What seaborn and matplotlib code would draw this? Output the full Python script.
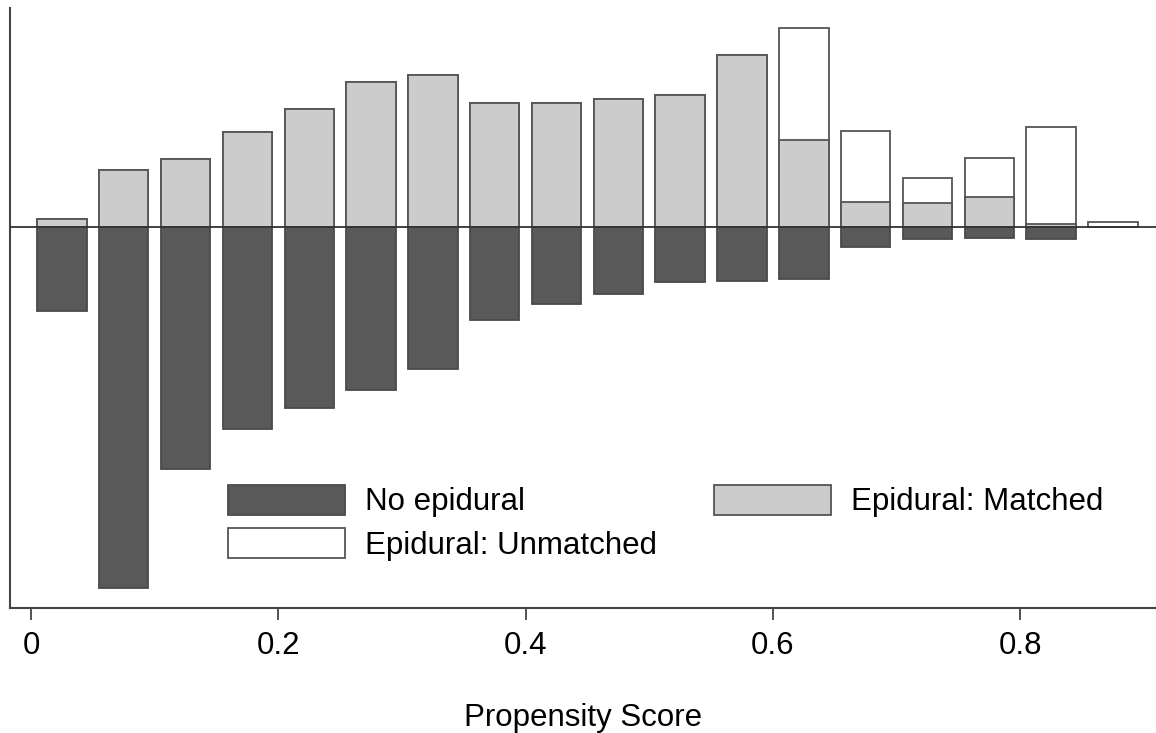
import seaborn as sns
import pandas as pd
import matplotlib.pyplot as plt
import matplotlib.patches as mpatches

# propensity score bin centres (bins of width 0.05)
bins = [0.025, 0.075, 0.125, 0.175, 0.225, 0.275, 0.325, 0.375, 0.425,
        0.475, 0.525, 0.575, 0.625, 0.675, 0.725, 0.775, 0.825, 0.875]

# bar heights (arbitrary density units)
matched = [0.074, 0.570, 0.677, 0.944, 1.177, 1.444, 1.520, 1.234, 1.234,
           1.277, 1.320, 1.717, 0.867, 0.250, 0.237, 0.300, 0.030, 0.0]
unmatched = [0.0, 0.0, 0.0, 0.0, 0.0, 0.0, 0.0, 0.0, 0.0,
             0.0, 0.0, 0.0, 1.117, 0.707, 0.250, 0.384, 0.964, 0.047]
no_epidural = [0.843, 3.613, 2.426, 2.026, 1.810, 1.636, 1.420, 0.930, 0.776,
               0.670, 0.556, 0.543, 0.526, 0.203, 0.120, 0.110, 0.120, 0.0]

labels = ["No epidural", "Epidural: Matched", "Epidural: Unmatched"]
xticks = [0, 0.2, 0.4, 0.6, 0.8]
xticklabels = ["0", "0.2", "0.4", "0.6", "0.8"]

DARK = "#595959"
LIGHT = "#cccccc"
EDGE = "#555555"

df = pd.DataFrame({"score": bins, "matched": matched, "unmatched": unmatched,
                   "none": no_epidural})
df["total"] = df["matched"] + df["unmatched"]
df["neg"] = -df["none"]

sns.set_theme(style="ticks")
plt.rcParams["font.family"] = ["Liberation Sans", "DejaVu Sans"]
plt.rcParams["text.color"] = "black"
plt.rcParams["xtick.labelcolor"] = "black"
plt.rcParams["axes.labelcolor"] = "black"

fig = plt.figure(figsize=(11.56, 7.33), dpi=100)
ax = fig.add_axes([10 / 1156, 1 - 608 / 733, 1146 / 1156, 600 / 733])

common = dict(native_scale=True, errorbar=None, saturation=1, width=0.8,
              linewidth=1.3, ax=ax)
# white (unmatched) bars drawn at full height, matched bars on top
sns.barplot(data=df, x="score", y="total", color="white", edgecolor=EDGE, **common)
sns.barplot(data=df, x="score", y="matched", color=LIGHT, edgecolor=EDGE, **common)
sns.barplot(data=df, x="score", y="neg", color=DARK, edgecolor="#4a4a4a", **common)

ax.axhline(0, color="#333333", lw=1.3, zorder=5)

ax.set_xlim(-0.017, 0.9098)
ax.set_ylim(-3.813, 2.187)
ax.set_xticks(xticks)
ax.set_xticklabels(xticklabels, fontsize=22.5, color="black")
ax.set_yticks([])
ax.set_ylabel("")
ax.set_xlabel("Propensity Score", fontsize=22.5, labelpad=30, color="black")
ax.tick_params(axis="x", direction="out", length=8.5, width=1.3,
               color="#444444", pad=8)
for s in ["top", "right"]:
    ax.spines[s].set_visible(False)
for s in ["left", "bottom"]:
    ax.spines[s].set_color("#444444")
    ax.spines[s].set_linewidth(1.5)

# legend filled row-wise: No epidural | Matched / Unmatched
h_none = mpatches.Patch(facecolor=DARK, edgecolor="#4a4a4a", lw=1.3, label=labels[0])
h_match = mpatches.Patch(facecolor=LIGHT, edgecolor=EDGE, lw=1.3, label=labels[1])
h_unm = mpatches.Patch(facecolor="white", edgecolor=EDGE, lw=1.3, label=labels[2])
leg = ax.legend(handles=[h_none, h_unm, h_match], ncol=2, frameon=False,
                loc="upper left", bbox_to_anchor=(0.1765, 0.2317), borderpad=0,
                fontsize=22.5, handlelength=3.75, handleheight=1.1,
                handletextpad=0.65, columnspacing=1.8, labelspacing=0.36)
for t in leg.get_texts():
    t.set_color("black")

fig.savefig("out.png", dpi=100)
